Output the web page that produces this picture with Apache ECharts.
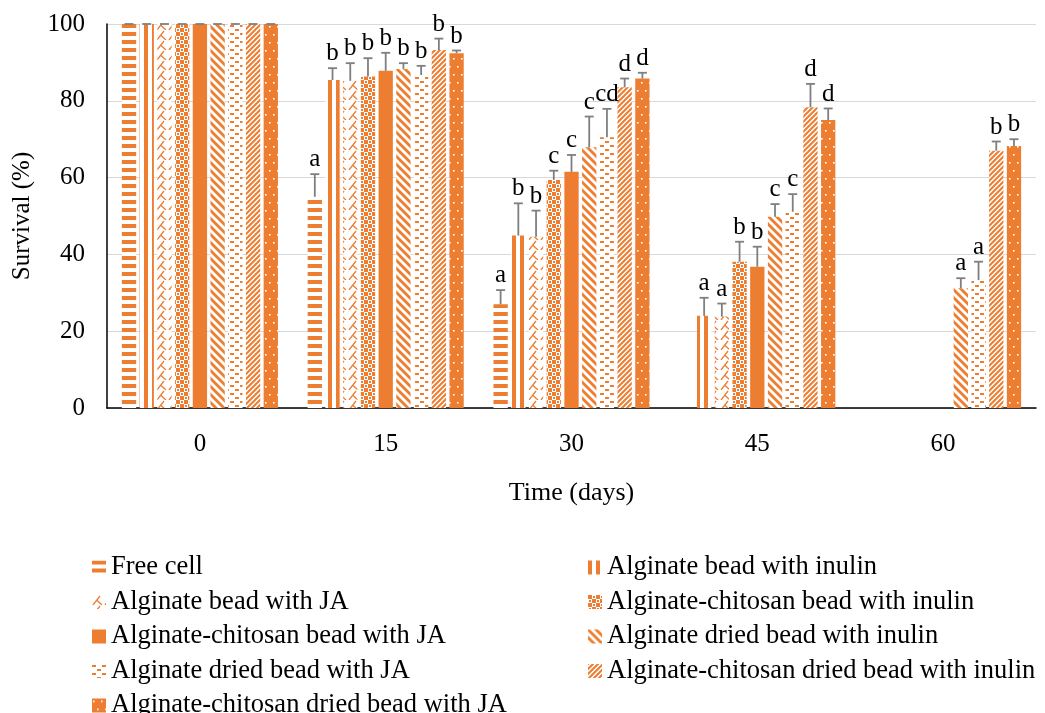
<!DOCTYPE html>
<html>
<head>
<meta charset="utf-8">
<script src="https://cdn.jsdelivr.net/npm/echarts@6/dist/echarts.min.js"></script>
<style>
  html, body { margin: 0; padding: 0; background: #fff; }
  #chart { width: 1045px; height: 713px; }
</style>
</head>
<body>
<div id="chart"></div>
<script>
var days = ['0', '15', '30', '45', '60'];

var names = [
    'Free cell',
    'Alginate bead with inulin',
    'Alginate bead with JA',
    'Alginate-chitosan bead with inulin',
    'Alginate-chitosan bead with JA',
    'Alginate dried bead with inulin',
    'Alginate dried bead with JA',
    'Alginate-chitosan dried bead with inulin',
    'Alginate-chitosan dried bead with JA'
];

// survival (%)
var freeCell        = [100, 55.0, 27.0, 0, 0];
var algInulin       = [100, 85.4, 44.9, 24.0, 0];
var algJA           = [100, 85.2, 44.6, 23.8, 0];
var chitInulin      = [100, 86.3, 59.4, 38.1, 0];
var chitJA          = [100, 87.8, 61.5, 36.8, 0];
var driedInulin     = [100, 88.3, 67.9, 49.8, 31.2];
var driedJA         = [100, 86.7, 70.5, 51.1, 33.3];
var chitDriedInulin = [100, 93.2, 83.5, 78.3, 67.0];
var chitDriedJA     = [100, 92.4, 85.8, 75.0, 68.2];

// error bars (+)
var errFreeCell        = [0, 5.9, 3.7, null, null];
var errAlgInulin       = [0, 3.1, 8.4, 4.7, null];
var errAlgJA           = [0, 4.6, 6.8, 3.4, null];
var errChitInulin      = [0, 4.8, 2.4, 5.2, null];
var errChitJA          = [0, 4.7, 4.4, 5.2, null];
var errDriedInulin     = [0, 1.5, 8.0, 3.3, 2.6];
var errDriedJA         = [0, 2.4, 7.4, 4.6, 4.8];
var errChitDriedInulin = [0, 3.0, 2.3, 6.1, 2.4];
var errChitDriedJA     = [0, 0.7, 1.5, 3.0, 1.8];

// significance letters
var letFreeCell        = ['', 'a', 'a', '', ''];
var letAlgInulin       = ['', 'b', 'b', 'a', ''];
var letAlgJA           = ['', 'b', 'b', 'a', ''];
var letChitInulin      = ['', 'b', 'c', 'b', ''];
var letChitJA          = ['', 'b', 'c', 'b', ''];
var letDriedInulin     = ['', 'b', 'c', 'c', 'a'];
var letDriedJA         = ['', 'b', 'cd', 'c', 'a'];
var letChitDriedInulin = ['', 'b', 'd', 'd', 'b'];
var letChitDriedJA     = ['', 'b', 'd', 'd', 'b'];

var values = [freeCell, algInulin, algJA, chitInulin, chitJA, driedInulin, driedJA, chitDriedInulin, chitDriedJA];
var errors = [errFreeCell, errAlgInulin, errAlgJA, errChitInulin, errChitJA, errDriedInulin, errDriedJA, errChitDriedInulin, errChitDriedJA];
var letters = [letFreeCell, letAlgInulin, letAlgJA, letChitInulin, letChitJA, letDriedInulin, letDriedJA, letChitDriedInulin, letChitDriedJA];

var ORANGE = '#ED7D31';
var FONT = "'Liberation Serif', 'Times New Roman', serif";
var CAT_GAP = 0.16, BAR_GAP = 0.24;

function makePattern(w, h, draw) {
    var c = document.createElement('canvas');
    c.width = w; c.height = h;
    var ctx = c.getContext('2d');
    ctx.fillStyle = '#fff';
    ctx.fillRect(0, 0, w, h);
    ctx.fillStyle = ORANGE;
    ctx.strokeStyle = ORANGE;
    draw(ctx);
    return { image: c, repeat: 'repeat' };
}
function poly(ctx, pts) {
    ctx.beginPath();
    ctx.moveTo(pts[0][0], pts[0][1]);
    for (var i = 1; i < pts.length; i++) ctx.lineTo(pts[i][0], pts[i][1]);
    ctx.closePath();
    ctx.fill();
}

var fills = [
    // wide horizontal
    makePattern(8, 8, function (ctx) { ctx.fillRect(0, 0, 8, 4); }),
    // wide vertical
    makePattern(8, 8, function (ctx) { ctx.fillRect(0, 0, 4, 8); }),
    // zig zag-ish
    makePattern(12, 10, function (ctx) {
        ctx.lineWidth = 1.3;
        ctx.beginPath();
        ctx.moveTo(1, 10); ctx.lineTo(8, 1);
        ctx.moveTo(5, 5.5); ctx.lineTo(10, 10);
        ctx.stroke();
    }),
    // large checker
    makePattern(8, 8, function (ctx) {
        ctx.fillRect(0, 0, 4, 4);
        ctx.fillRect(4, 4, 4, 4);
        ctx.fillRect(5, 1, 2, 2);
        ctx.fillRect(1, 5, 2, 2);
    }),
    // solid
    ORANGE,
    // wide downward diagonal
    makePattern(8, 8, function (ctx) {
        poly(ctx, [[0, 0], [2, 0], [8, 6], [8, 8], [6, 8], [0, 2]]);
        poly(ctx, [[6, 0], [8, 0], [8, 2]]);
        poly(ctx, [[0, 6], [0, 8], [2, 8]]);
    }),
    // dashed horizontal
    makePattern(10, 8, function (ctx) {
        ctx.fillRect(0, 1, 4, 2);
        ctx.fillRect(5, 5, 4, 2);
    }),
    // dark upward diagonal
    makePattern(5, 5, function (ctx) {
        ctx.lineWidth = 2;
        ctx.beginPath();
        ctx.moveTo(-1, 6); ctx.lineTo(6, -1);
        ctx.moveTo(-3, 3); ctx.lineTo(3, -3);
        ctx.moveTo(2, 8); ctx.lineTo(8, 2);
        ctx.stroke();
    }),
    // dots on orange
    makePattern(8, 16, function (ctx) {
        ctx.fillRect(0, 0, 8, 16);
        ctx.fillStyle = '#fff';
        ctx.fillRect(1, 2, 1.6, 1.6);
        ctx.fillRect(5, 10, 1.6, 1.6);
    })
];

var series = [];
for (var s = 0; s < names.length; s++) {
    series.push({
        name: names[s],
        type: 'bar',
        barGap: (BAR_GAP * 100) + '%',
        barCategoryGap: (CAT_GAP * 100) + '%',
        itemStyle: { color: fills[s] },
        data: values[s]
    });
}

var errData = [];
for (var s = 0; s < names.length; s++) {
    for (var c = 0; c < days.length; c++) {
        if (errors[s][c] != null) errData.push([c, s, values[s][c], errors[s][c], letters[s][c]]);
    }
}

series.push({
    type: 'custom',
    clip: false,
    z: 10,
    silent: true,
    encode: { x: 0, y: 2 },
    data: errData,
    renderItem: function (params, api) {
        var item = errData[params.dataIndex];
        var c = item[0], s = item[1], v = item[2], e = item[3];
        var band = api.size([1, 0])[0];
        var usable = band * (1 - CAT_GAP);
        var bw = usable / (9 + 8 * BAR_GAP);
        var x = api.coord([c, 0])[0] - usable / 2 + s * bw * (1 + BAR_GAP) + bw / 2;
        var yBase = api.coord([c, v])[1];
        var yTop = api.coord([c, v + e])[1];
        var st = { stroke: '#7f7f7f', lineWidth: 1.8 };
        var children = [
            { type: 'line', shape: { x1: x, y1: yBase, x2: x, y2: yTop }, style: st },
            { type: 'line', shape: { x1: x - 4.5, y1: yTop, x2: x + 4.5, y2: yTop }, style: st }
        ];
        if (item[4]) {
            children.push({
                type: 'text',
                style: {
                    text: item[4], x: x, y: yTop - 2,
                    align: 'center', verticalAlign: 'bottom',
                    fill: '#000', font: '25px ' + FONT
                }
            });
        }
        return { type: 'group', children: children };
    }
});

var legendText = { fontFamily: FONT, fontSize: 26.5, color: '#000' };

var chart = echarts.init(document.getElementById('chart'));
chart.setOption({
    animation: false,
    textStyle: { fontFamily: FONT },
    grid: { left: 107, right: 9, top: 24, bottom: 305 },
    legend: [{
        data: [names[0], names[2], names[4], names[6], names[8]],
        orient: 'vertical', left: 92, top: 554, height: 170, padding: 0,
        icon: 'rect', itemWidth: 14, itemHeight: 14, itemGap: 7.5,
        textStyle: legendText
    }, {
        data: [names[1], names[3], names[5], names[7]],
        orient: 'vertical', left: 588, top: 554, height: 170, padding: 0,
        icon: 'rect', itemWidth: 14, itemHeight: 14, itemGap: 7.5,
        textStyle: legendText
    }],
    xAxis: {
        type: 'category',
        data: days,
        name: 'Time (days)',
        nameLocation: 'middle',
        nameGap: 72,
        nameTextStyle: { fontFamily: FONT, fontSize: 26, color: '#000' },
        axisLine: { lineStyle: { color: '#000', width: 1.5 } },
        axisTick: { show: false },
        axisLabel: { fontFamily: FONT, fontSize: 25, color: '#000', margin: 24 }
    },
    yAxis: {
        type: 'value',
        min: 0, max: 100, interval: 20,
        name: 'Survival (%)',
        nameLocation: 'middle',
        nameGap: 72,
        nameTextStyle: { fontFamily: FONT, fontSize: 25, color: '#000' },
        axisLine: { show: true, lineStyle: { color: '#000', width: 1.5 } },
        axisTick: { show: false },
        splitLine: { lineStyle: { color: '#d9d9d9', width: 1.2 } },
        axisLabel: { fontFamily: FONT, fontSize: 25, color: '#000', margin: 22 }
    },
    series: series
});
</script>
</body>
</html>
